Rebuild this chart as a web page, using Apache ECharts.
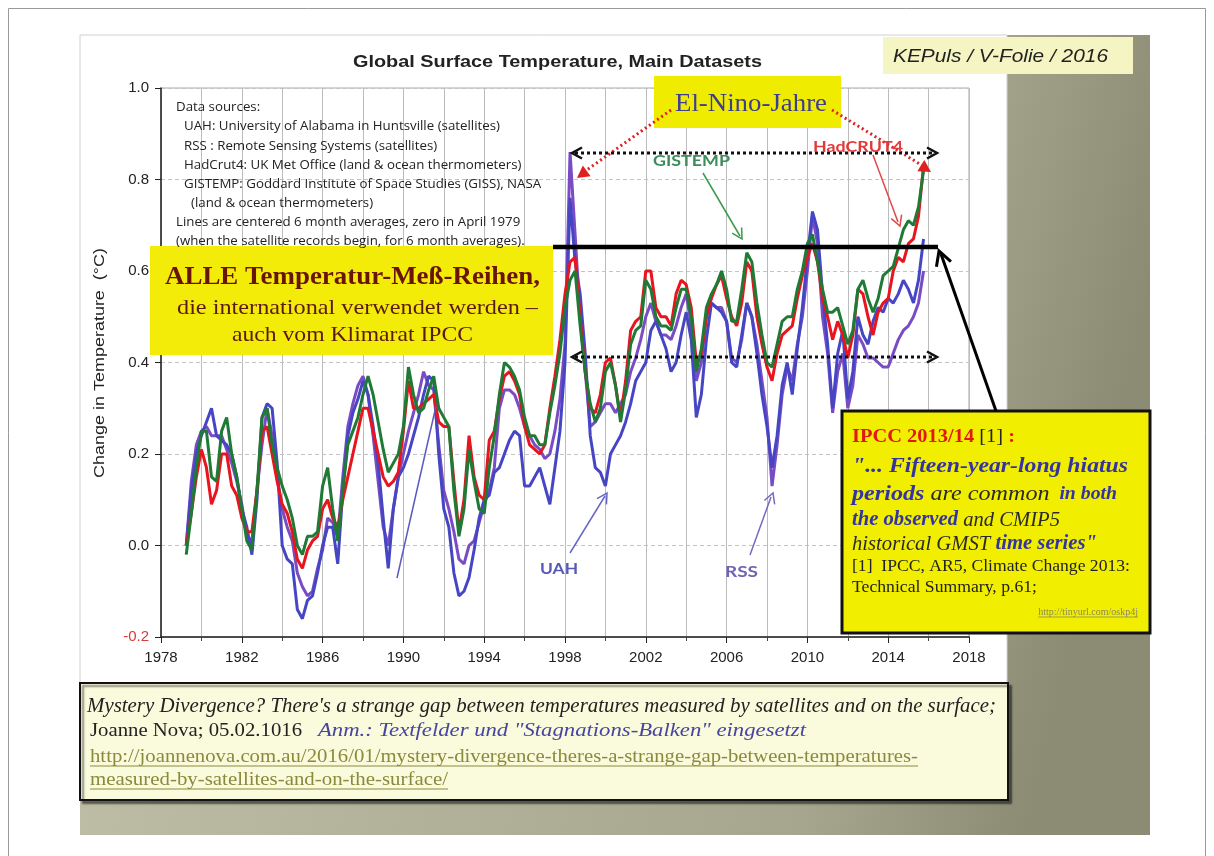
<!DOCTYPE html>
<html><head><meta charset="utf-8">
<script src="https://cdn.jsdelivr.net/npm/echarts/dist/echarts.min.js"></script>
<style>html,body{margin:0;padding:0;background:#fff}#c{width:1214px;height:856px}</style>
</head><body><div id="c"></div>
<script>
// time grid: quarter-year steps, 1979.25 ... 2015.75
const years = [];
for (let i = 0; i < 147; i++) years.push(1979.25 + 0.25 * i);

const gistemp = [
 -0.02,0.07,0.17,0.25, 0.25,0.15,0.14,0.25, 0.28,0.20,0.15,0.08, 0.01,-0.01,0.12,0.28,
 0.30,0.22,0.17,0.13, 0.10,0.06,0.00,-0.02, 0.02,0.02,0.03,0.13, 0.17,0.08,0.01,0.12,
 0.22,0.25,0.28,0.33, 0.37,0.33,0.27,0.21, 0.16,0.18,0.20,0.26, 0.39,0.33,0.29,0.30,
 0.34,0.37,0.30,0.28, 0.26,0.12,0.02,0.08, 0.21,0.14,0.08,0.07, 0.17,0.24,0.33,0.40,
 0.39,0.37,0.34,0.28, 0.24,0.24,0.22,0.22, 0.29,0.35,0.42,0.52, 0.58,0.60,0.48,0.38,
 0.31,0.27,0.30,0.38, 0.40,0.35,0.27,0.34, 0.44,0.47,0.48,0.58, 0.56,0.50,0.48,0.48,
 0.47,0.52,0.56,0.56, 0.50,0.38,0.43,0.52, 0.55,0.57,0.60,0.56, 0.49,0.49,0.56,0.64,
 0.62,0.53,0.46,0.40, 0.39,0.44,0.49,0.50, 0.50,0.56,0.60,0.66, 0.68,0.62,0.56,0.51,
 0.51,0.52,0.48,0.44, 0.47,0.56,0.58,0.54, 0.51,0.54,0.59,0.60, 0.61,0.65,0.69,0.71,
 0.70,0.74,0.82];

const hadcrut4 = [
 0.00,0.07,0.15,0.21, 0.17,0.09,0.12,0.20, 0.20,0.13,0.11,0.06, 0.03,0.03,0.12,0.25,
 0.26,0.20,0.14,0.09, 0.07,0.03,-0.03,-0.05, -0.01,0.01,0.02,0.08, 0.10,0.06,0.04,0.10,
 0.15,0.20,0.25,0.30, 0.30,0.25,0.20,0.15, 0.13,0.14,0.16,0.25, 0.36,0.30,0.30,0.31,
 0.32,0.33,0.27,0.26, 0.26,0.14,0.03,0.10, 0.24,0.15,0.11,0.10, 0.23,0.25,0.32,0.37,
 0.38,0.36,0.33,0.26, 0.22,0.21,0.20,0.22, 0.30,0.37,0.45,0.55, 0.62,0.63,0.50,0.38,
 0.30,0.29,0.33,0.40, 0.41,0.35,0.28,0.36, 0.47,0.49,0.50,0.60, 0.60,0.52,0.50,0.50,
 0.48,0.55,0.58,0.57, 0.52,0.40,0.42,0.50, 0.54,0.57,0.59,0.54, 0.50,0.48,0.53,0.62,
 0.60,0.50,0.44,0.39, 0.36,0.42,0.46,0.47, 0.48,0.54,0.59,0.63, 0.66,0.62,0.54,0.50,
 0.45,0.49,0.46,0.41, 0.46,0.56,0.55,0.50, 0.46,0.51,0.53,0.54, 0.60,0.63,0.62,0.66,
 0.67,0.72,0.83];

const uah = [
 0.00,0.12,0.20,0.24, 0.27,0.30,0.24,0.23, 0.22,0.20,0.15,0.08, 0.04,-0.02,0.10,0.28,
 0.31,0.30,0.18,0.00, -0.03,-0.04,-0.14,-0.16, -0.12,-0.11,-0.06,0.00, 0.04,0.04,-0.04,0.12,
 0.24,0.29,0.32,0.36, 0.33,0.26,0.18,0.06, -0.05,0.08,0.15,0.17, 0.20,0.24,0.28,0.33,
 0.37,0.36,0.20,0.08, 0.04,-0.06,-0.11,-0.10, -0.07,-0.01,0.06,0.10, 0.11,0.16,0.17,0.20,
 0.23,0.25,0.24,0.13, 0.13,0.15,0.17,0.13, 0.09,0.17,0.25,0.40, 0.76,0.62,0.55,0.42,
 0.24,0.17,0.16,0.13, 0.20,0.22,0.24,0.27, 0.31,0.36,0.38,0.40, 0.47,0.49,0.46,0.43,
 0.38,0.40,0.46,0.51, 0.45,0.28,0.33,0.45, 0.53,0.52,0.51,0.49, 0.40,0.39,0.46,0.53,
 0.50,0.42,0.33,0.26, 0.17,0.24,0.35,0.40, 0.33,0.43,0.52,0.63, 0.73,0.69,0.55,0.44,
 0.30,0.42,0.47,0.32, 0.38,0.50,0.46,0.44, 0.49,0.52,0.51,0.54, 0.53,0.55,0.58,0.56,
 0.53,0.58,0.67];

const rss = [
 0.00,0.14,0.22,0.25, 0.26,0.24,0.24,0.24, 0.21,0.18,0.14,0.09, 0.02,0.01,0.12,0.22,
 0.30,0.24,0.15,0.08, 0.04,0.01,-0.06,-0.09, -0.11,-0.10,-0.05,-0.01, 0.06,0.05,0.02,0.15,
 0.26,0.31,0.35,0.37, 0.33,0.24,0.14,0.04, 0.00,0.08,0.15,0.20, 0.25,0.29,0.33,0.38,
 0.35,0.34,0.22,0.12, 0.08,0.03,-0.03,-0.04, 0.00,0.01,0.05,0.09, 0.12,0.17,0.30,0.34,
 0.34,0.33,0.30,0.26, 0.24,0.22,0.21,0.19, 0.20,0.25,0.32,0.44, 0.86,0.68,0.50,0.38,
 0.26,0.27,0.29,0.31, 0.31,0.29,0.31,0.33, 0.38,0.41,0.45,0.50, 0.53,0.49,0.46,0.46,
 0.45,0.48,0.52,0.55, 0.48,0.36,0.40,0.50, 0.53,0.52,0.52,0.49, 0.41,0.40,0.45,0.53,
 0.50,0.44,0.36,0.28, 0.13,0.22,0.33,0.39, 0.36,0.44,0.50,0.60, 0.72,0.66,0.50,0.42,
 0.29,0.38,0.42,0.30, 0.35,0.46,0.44,0.41, 0.41,0.40,0.39,0.39, 0.42,0.45,0.47,0.48,
 0.50,0.53,0.60];

const xTicks = { min: 1978, max: 2018, step: 4 };
const yTicks = { min: -0.2, max: 1.0, step: 0.2 };

const dataSourceLines = [
  'Data sources:',
  'UAH: University of Alabama in Huntsville (satellites)',
  'RSS : Remote Sensing Systems (satellites)',
  'HadCrut4: UK Met Office (land & ocean thermometers)',
  'GISTEMP: Goddard Institute of Space Studies (GISS), NASA',
  '(land & ocean thermometers)',
  'Lines are centered 6 month averages, zero in April 1979',
  '(when the satellite records begin, for 6 month averages).'
];

// ---------- helpers ----------
const mctx = document.createElement('canvas').getContext('2d');
function tw(text, font) { mctx.font = font; return mctx.measureText(text).width; }
function fitText(text, font, x, y, width, fill, extra) {
  const s = width / tw(text, font);
  return Object.assign({ type: 'text', x: x, y: y, scaleX: s, z: 100,
    style: { text: text, font: font, fill: fill, textAlign: 'left', align: 'left',
             textVerticalAlign: 'middle', verticalAlign: 'middle' } }, extra || {});
}
function pl(points, color, width, dash, z) {
  return { type: 'polyline', z: z == null ? 100 : z, shape: { points: points },
    style: { stroke: color, lineWidth: width, lineDash: dash || null, fill: null } };
}
function head(tip, from, size, color, open, width) {
  const dx = tip[0] - from[0], dy = tip[1] - from[1], L = Math.hypot(dx, dy);
  const ux = dx / L, uy = dy / L, px = -uy, py = ux;
  const bx = tip[0] - ux * size, by = tip[1] - uy * size;
  const a = [bx + px * size * 0.55, by + py * size * 0.55];
  const b = [bx - px * size * 0.55, by - py * size * 0.55];
  if (open) return pl([a, tip, b], color, width || 2, null, 101);
  return { type: 'polygon', z: 101, shape: { points: [a, tip, b] }, style: { fill: color } };
}

const G = [];
// page frame + slide background + chart paper
G.push({ type: 'rect', z: -20, shape: { x: 8.5, y: 8.5, width: 1197, height: 900 },
  style: { fill: '#fff', stroke: '#9a9a9a', lineWidth: 1 } });
G.push({ type: 'rect', z: -19, shape: { x: 80, y: 35, width: 1070, height: 800 },
  style: { fill: { type: 'linear', x: 0, y: 0, x2: 1, y2: 0.3, colorStops: [
    { offset: 0, color: '#c2c2aa' }, { offset: 0.8, color: '#a6a68e' }, { offset: 1, color: '#8c8c74' }] } } });
G.push({ type: 'rect', z: -18, shape: { x: 80, y: 35, width: 927, height: 650 },
  style: { fill: '#ffffff', stroke: '#d0d0d0', lineWidth: 1 } });

// title & header box
G.push(fitText('Global Surface Temperature, Main Datasets', 'bold 17px "Liberation Sans"', 353, 62, 409, '#222'));
G.push({ type: 'rect', z: 99, shape: { x: 883, y: 37, width: 250, height: 37 }, style: { fill: '#f5f5c4' } });
G.push(fitText('KEPuls / V-Folie / 2016', 'italic 18px "Liberation Sans"', 893, 57, 215, '#222'));

// data sources block
const dsFont = '13px "Open Sans"';
const dsScale = 316 / tw(dataSourceLines[1], dsFont);
const dsX = [176, 184, 184, 184, 184, 191, 176, 176];
const dsY = [107, 126.5, 146, 165, 184.5, 203.5, 222, 241];
dataSourceLines.forEach((t, i) => {
  G.push({ type: 'text', x: dsX[i], y: dsY[i], scaleX: dsScale, z: 100,
    style: { text: t, font: dsFont, fill: '#222', textAlign: 'left', align: 'left',
             textVerticalAlign: 'middle', verticalAlign: 'middle' } });
});

// yellow box "ALLE ..."
G.push({ type: 'rect', z: 99, shape: { x: 150, y: 246, width: 403, height: 109 }, style: { fill: '#f2ec08' } });
G.push(fitText('ALLE Temperatur-Meß-Reihen,', 'bold 26px "Liberation Serif"', 165, 277, 375, '#6a1408'));
G.push(fitText('die international verwendet werden –', '21px "Liberation Serif"', 177, 308, 361, '#5a1a10'));
G.push(fitText('auch vom Klimarat IPCC', '21px "Liberation Serif"', 232, 335, 241, '#5a1a10'));

// El-Nino box
G.push({ type: 'rect', z: 99, shape: { x: 654, y: 76, width: 187, height: 52 }, style: { fill: '#f0ec00' } });
G.push(fitText('El-Nino-Jahre', '25px "Liberation Serif"', 675, 104, 152, '#3e3e90'));

// red dotted arrows
G.push(pl([[671, 110], [584, 172]], '#e02020', 3, [2, 3]));
G.push(head([577, 178], [671, 110], 12, '#e02020', false));
G.push(pl([[832, 110], [923, 166]], '#e02020', 3, [2, 3]));
G.push(head([931, 172], [832, 110], 12, '#e02020', false));

// black dotted double arrows
[153, 357].forEach(y => {
  G.push(pl([[575, y], [934, y]], '#111', 3, [3, 3]));
  G.push(head([572, y], [600, y], 10, '#111', true, 2.5));
  G.push(head([937, y], [900, y], 10, '#111', true, 2.5));
});
// thick black bar and pointer
G.push(pl([[553, 247], [938, 247]], '#000', 4.5));
G.push(pl([[996, 411], [941, 254]], '#000', 3));
G.push(head([939, 251], [996, 411], 14, '#000', true, 3));

// series labels and arrows
G.push(fitText('GISTEMP', 'bold 16px Lato', 653, 161, 77, '#3c8c5c'));
G.push(pl([[703, 173], [740, 236]], '#3a9a4a', 1.5));
G.push(head([742, 239], [703, 173], 10, '#3a9a4a', true, 1.5));
G.push(fitText('HadCRUT4', 'bold 16px Lato', 813, 147, 90, '#e03a3a'));
G.push(pl([[873, 155], [898, 222]], '#e04848', 1.5));
G.push(head([900, 226], [873, 155], 10, '#e04848', true, 1.5));
G.push(fitText('UAH', 'bold 16px Lato', 540, 569, 38, '#5858b8'));
G.push(pl([[570, 553], [605, 496]], '#6868c4', 1.5));
G.push(head([607, 493], [570, 553], 10, '#6868c4', true, 1.5));
G.push(fitText('RSS', 'bold 16px Lato', 725, 572, 33, '#7262b4'));
G.push(pl([[750, 555], [771, 497]], '#7868c0', 1.5));
G.push(head([773, 493], [750, 555], 10, '#7868c0', true, 1.5));
G.push(pl([[397, 578], [436, 406]], '#5a5ac0', 1.5));

// y axis name
G.push(fitText('Change in Temperature  (°C)', '15px "Liberation Sans"', 0, 0, 230, '#222',
  { x: 100, y: 363, rotation: Math.PI / 2 }));
G[G.length - 1].style.textAlign = 'center'; G[G.length - 1].style.align = 'center';

// IPCC box
G.push({ type: 'rect', z: 99, shape: { x: 842, y: 411, width: 308, height: 222 },
  style: { fill: '#f2ee00', stroke: '#111', lineWidth: 3 } });
const B = '#3434a0', D = '#2a2a2a';
const rich = {
  r: { font: 'bold 18px "Liberation Serif"', fill: '#e01818' },
  k: { font: '18px "Liberation Serif"', fill: '#222' },
  bq: { font: 'italic bold 22px "Liberation Serif"', fill: B },
  bi: { font: 'italic bold 22px "Liberation Serif"', fill: B },
  di: { font: 'italic 22px "Liberation Serif"', fill: D },
  bs: { font: 'italic bold 18px "Liberation Serif"', fill: B },
  b2: { font: 'italic bold 21px "Liberation Serif"', fill: B },
  d2: { font: 'italic 21px "Liberation Serif"', fill: D },
  n: { font: '17px "Liberation Serif"', fill: '#222' }
};
function rt(parts, x, y, width) {
  let text = '', w = 0;
  parts.forEach(p => { text += '{' + p[0] + '|' + p[1] + '}'; w += tw(p[1], rich[p[0]].font); });
  return { type: 'text', x: x, y: y, z: 100, scaleX: width / w,
    style: { text: text, rich: rich, textAlign: 'left', align: 'left',
    textVerticalAlign: 'middle', verticalAlign: 'middle' } };
}
G.push(rt([['r', 'IPCC 2013/14'], ['k', ' [1]'], ['r', ' :']], 852, 437, 163));
G.push(rt([['bq', '"... Fifteen-year-long hiatus']], 852, 466, 276));
G.push(rt([['bi', 'periods'], ['di', ' are common'], ['bs', '  in both']], 852, 494, 265));
G.push(rt([['b2', 'the observed'], ['d2', ' and CMIP5']], 852, 520, 208));
G.push(rt([['d2', 'historical GMST'], ['b2', ' time series"']], 852, 544, 245));
G.push(rt([['n', '[1]  IPCC, AR5, Climate Change 2013:']], 852, 567, 278));
G.push(rt([['n', 'Technical Summary, p.61;']], 852, 588, 185));
const tinyFont = '10px "Liberation Serif"', tinyTxt = 'http://tinyurl.com/oskp4j';
const tinyW = tw(tinyTxt, tinyFont);
G.push({ type: 'text', x: 1138, y: 612, z: 100, style: { text: tinyTxt, font: tinyFont, fill: '#8a8a5a',
  textAlign: 'right', align: 'right', textVerticalAlign: 'middle', verticalAlign: 'middle' } });
G.push(pl([[1138 - tinyW, 617], [1138, 617]], '#8a8a5a', 0.8));

// bottom source box
G.push({ type: 'rect', z: 99, shape: { x: 80, y: 683, width: 928, height: 117 },
  style: { fill: '#fafadc', stroke: '#111', lineWidth: 2, shadowColor: 'rgba(0,0,0,0.45)', shadowOffsetX: 3, shadowOffsetY: 3, shadowBlur: 2 } });
G.push(fitText("Mystery Divergence? There's a strange gap between temperatures measured by satellites and on the surface;",
  'italic 21px "Liberation Serif"', 87, 706, 909, '#222'));
G.push(fitText('Joanne Nova; 05.02.1016', '19px "Liberation Serif"', 90, 731, 212, '#222'));
G.push(fitText('Anm.: Textfelder und "Stagnations-Balken" eingesetzt', 'italic 19px "Liberation Serif"', 318, 731, 488, '#4646a0'));
G.push(fitText('http://joannenova.com.au/2016/01/mystery-divergence-theres-a-strange-gap-between-temperatures-',
  '19px "Liberation Serif"', 90, 757, 828, '#8a8a3c'));
G.push(pl([[90, 766], [918, 766]], '#8a8a3c', 1));
G.push(fitText('measured-by-satellites-and-on-the-surface/', '19px "Liberation Serif"', 90, 780, 358, '#8a8a3c'));
G.push(pl([[90, 789], [448, 789]], '#8a8a3c', 1));

function ser(name, vals, color, z) {
  return { name: name, type: 'line', data: years.map((t, i) => [t, vals[i]]), symbol: 'none',
    z: z, lineStyle: { color: color, width: 3 }, itemStyle: { color: color } };
}

const chart = echarts.init(document.getElementById('c'), null, { renderer: 'canvas' });
chart.setOption({
  animation: false,
  backgroundColor: 'transparent',
  grid: { left: 161, right: 245, top: 88, bottom: 219, show: true, backgroundColor: '#fff', borderColor: '#a8a8a8', borderWidth: 1 },
  xAxis: {
    type: 'value', min: xTicks.min, max: xTicks.max, interval: xTicks.step,
    axisLine: { show: true, onZero: false, lineStyle: { color: '#222', width: 1.5 } },
    axisTick: { show: true, length: 6, lineStyle: { color: '#222' } },
    minorTick: { show: true, splitNumber: 2, length: 4, lineStyle: { color: '#444' } },
    axisLabel: { fontSize: 15, color: '#222', margin: 13, fontFamily: 'Liberation Sans', formatter: v => String(v) },
    splitLine: { show: true, lineStyle: { color: '#bcbcbc', width: 1 } },
    minorSplitLine: { show: true, lineStyle: { color: '#bcbcbc', width: 1 } }
  },
  yAxis: {
    type: 'value', min: yTicks.min, max: yTicks.max, interval: yTicks.step,
    axisLine: { show: true, onZero: false, lineStyle: { color: '#222', width: 1.5 } },
    axisTick: { show: true, length: 6, lineStyle: { color: '#222' } },
    axisLabel: { fontSize: 15, color: '#222', margin: 12, fontFamily: 'Liberation Sans',
      formatter: v => (v < -0.1 ? '{r|' + v.toFixed(1) + '}' : v.toFixed(1)),
      rich: { r: { color: '#d83a3a', fontSize: 15, fontFamily: 'Liberation Sans' } } },
    splitLine: { show: true, lineStyle: { color: '#c4c4c4', type: [4, 3] } }
  },
  series: [
    ser('RSS', rss, '#7a4cc4', 2),
    ser('UAH', uah, '#4646c4', 3),
    ser('HadCRUT4', hadcrut4, '#e8141e', 4),
    ser('GISTEMP', gistemp, '#1e7a34', 5)
  ],
  graphic: { elements: G }
});
</script></body></html>
